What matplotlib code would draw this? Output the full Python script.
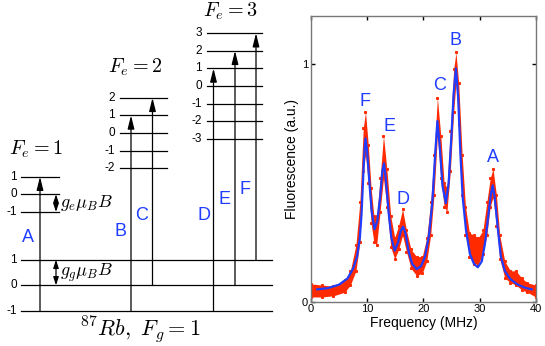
import matplotlib
matplotlib.use("Agg")
import matplotlib.pyplot as plt

plt.rcParams.update({
    "font.family": ["Liberation Sans", "DejaVu Sans"],
    "mathtext.fontset": "cm",
    "font.size": 9,
})

# ── level diagram data ────────────────────────────────────────────
ground_m = [1, 0, -1]
excited_F = [1, 2, 3]
trans_labels = ["A", "B", "C", "D", "E", "F"]
trans_mg = [-1, -1, 0, -1, 0, 1]     # ground sublevel
trans_Fe = [1, 2, 2, 3, 3, 3]        # excited manifold
trans_me = [1, 1, 2, 1, 2, 3]        # excited sublevel

# ── spectrum data ─────────────────────────────────────────────────
# fit curve (blue)
fit_f = [1.1, 3.0, 5.0, 6.5, 7.5, 8.2, 8.7, 9.0, 9.3, 9.5, 9.7, 10.0, 10.4, 10.8,
         11.3, 11.8, 12.3, 12.7, 13.0, 13.3, 13.8, 14.3, 14.9, 15.5, 16.0, 16.4,
         16.8, 17.4, 18.0, 18.8, 19.6, 20.3, 21.0, 21.6, 22.1, 22.5, 22.9, 23.4,
         24.0, 24.5, 25.0, 25.4, 25.8, 26.2, 26.6, 27.0, 27.6, 28.3, 29.0, 29.7,
         30.4, 31.0, 31.6, 32.0, 32.35, 32.7, 33.2, 33.8, 34.5, 35.5, 36.8, 38.2, 39.3]
fit_y = [0.052, 0.057, 0.072, 0.098, 0.14, 0.19, 0.27, 0.37, 0.53, 0.63, 0.688, 0.63,
         0.50, 0.38, 0.305, 0.34, 0.44, 0.55, 0.583, 0.52, 0.38, 0.27, 0.215, 0.25,
         0.30, 0.316, 0.29, 0.21, 0.16, 0.137, 0.15, 0.19, 0.28, 0.42, 0.62, 0.761,
         0.66, 0.49, 0.415, 0.50, 0.70, 0.88, 0.983, 0.86, 0.62, 0.44, 0.30, 0.20,
         0.16, 0.145, 0.17, 0.25, 0.37, 0.45, 0.49, 0.44, 0.32, 0.19, 0.13, 0.095,
         0.072, 0.058, 0.052]

# measured data (red): lower / upper edge of the noisy band
data_f = [0, 2, 4, 6, 7, 8, 8.7, 9.3, 9.7, 10.2, 10.7, 11.2, 11.7, 12.3, 12.9, 13.5,
          14.2, 14.9, 15.6, 16.3, 17.0, 17.8, 18.8, 19.8, 20.6, 21.3, 21.9, 22.5,
          23.1, 23.7, 24.2, 24.8, 25.4, 25.8, 26.3, 26.9, 27.5, 28.2, 29.0, 29.8,
          30.6, 31.3, 31.9, 32.4, 33.0, 33.6, 34.5, 35.5, 36.5, 37.5, 38.5, 40]
data_lo = [0.02, 0.02, 0.025, 0.04, 0.07, 0.13, 0.25, 0.55, 0.62, 0.50, 0.33, 0.25,
           0.24, 0.38, 0.52, 0.40, 0.23, 0.18, 0.22, 0.28, 0.21, 0.14, 0.11, 0.12,
           0.17, 0.28, 0.45, 0.70, 0.52, 0.40, 0.38, 0.55, 0.80, 0.92, 0.75, 0.45,
           0.28, 0.19, 0.16, 0.16, 0.20, 0.28, 0.40, 0.44, 0.32, 0.18, 0.10, 0.08,
           0.07, 0.05, 0.04, 0.02]
data_hi = [0.075, 0.07, 0.065, 0.09, 0.13, 0.24, 0.42, 0.73, 0.80, 0.66, 0.48, 0.36,
           0.36, 0.52, 0.70, 0.56, 0.36, 0.27, 0.32, 0.39, 0.30, 0.22, 0.19, 0.19,
           0.27, 0.42, 0.62, 0.86, 0.70, 0.50, 0.48, 0.72, 0.98, 1.05, 0.92, 0.62,
           0.40, 0.29, 0.28, 0.27, 0.30, 0.42, 0.52, 0.56, 0.45, 0.28, 0.17, 0.13,
           0.13, 0.10, 0.08, 0.07]

peak_labels = ["F", "E", "D", "C", "B", "A"]
peak_f = [9.7, 13.9, 16.4, 22.9, 25.7, 32.45]
peak_y = [0.843, 0.737, 0.431, 0.909, 1.10, 0.607]

BLUE = "#1f3dff"
RED = "#ff2a00"

fig = plt.figure(figsize=(5.45, 3.46), dpi=100)

# ── left: level scheme, drawn in pixel-like units ─────────────────
axd = fig.add_axes([0, 0, 280 / 545, 1])
axd.set_xlim(0, 280)
axd.set_ylim(346, 0)
axd.axis("off")

G_Y0, G_DY = 285.3, 25.5
E_DY = 17.6
E_Y0 = {1: 194.3, 2: 133.0, 3: 86.0}
E_X = {1: (21, 59), 2: (120, 167), 3: (207, 262)}
E_LAB_X = {1: 17, 2: 115, 3: 202}
E_TITLE = {1: (36, 149), 2: (135, 67), 3: (230, 11)}


def g_y(m):
    return G_Y0 - m * G_DY


def e_y(F, m):
    return E_Y0[F] - m * E_DY


for m in ground_m:
    axd.plot([21, 272], [g_y(m)] * 2, color="k", lw=0.9)
    axd.text(17, g_y(m), str(m), ha="right", va="center", fontsize=8.5)

for F in excited_F:
    for m in range(-F, F + 1):
        axd.plot(E_X[F], [e_y(F, m)] * 2, color="k", lw=0.9)
        axd.text(E_LAB_X[F], e_y(F, m), str(m), ha="right", va="center", fontsize=8.5)
    axd.text(*E_TITLE[F], rf"$F_e = {F}$", ha="center", va="center", fontsize=14.5)

arrow_x = [40, 131, 152.5, 213.5, 235, 256]
label_xy = [(28, 238), (120, 232), (142, 215), (204, 215), (225, 200), (245, 190)]
for lab, mg, F, me, x, (lx, ly) in zip(trans_labels, trans_mg, trans_Fe, trans_me,
                                       arrow_x, label_xy):
    axd.annotate("", xy=(x, e_y(F, me)), xytext=(x, g_y(mg)),
                 arrowprops=dict(arrowstyle="-|>,head_length=0.8,head_width=0.2",
                                 color="k", lw=0.9, shrinkA=0, shrinkB=0,
                                 mutation_scale=10))
    axd.text(lx, ly, lab, color=BLUE, fontsize=13, ha="center", va="center")

# Zeeman splitting markers
dbl = dict(arrowstyle="<|-|>,head_length=0.6,head_width=0.2", color="k", lw=0.9,
           shrinkA=0, shrinkB=0, mutation_scale=8)
axd.annotate("", xy=(56, e_y(1, 0)), xytext=(56, e_y(1, -1)), arrowprops=dbl)
axd.annotate("", xy=(56, g_y(1)), xytext=(56, g_y(0)), arrowprops=dbl)
axd.text(60, (e_y(1, 0) + e_y(1, -1)) / 2, r"$g_e\mu_B B$", va="center", fontsize=13)
axd.text(60, (g_y(1) + g_y(0)) / 2, r"$g_g\mu_B B$", va="center", fontsize=13)

axd.text(140, 330, r"$^{87}Rb,\ F_g = 1$", ha="center", va="center", fontsize=16)

# ── right: fluorescence spectrum ──────────────────────────────────
ax = fig.add_axes([311 / 545, 1 - 301.7 / 346, 224.7 / 545, 286 / 346])
ax.fill_between(data_f, data_lo, data_hi, color=RED, lw=0)
ax.plot(data_f, data_lo, "s", ms=1.2, color=RED)
ax.plot(data_f, data_hi, "s", ms=1.2, color=RED)
ax.plot(fit_f, fit_y, color=BLUE, lw=1.6)
for lab, f, y in zip(peak_labels, peak_f, peak_y):
    ax.text(f, y, lab, color=BLUE, fontsize=13, ha="center", va="center")

ax.set_xlim(0, 40)
ax.set_ylim(0, 1.205)
ax.set_xticks([0, 10, 20, 30, 40])
ax.set_yticks([0, 1])
ax.tick_params(direction="in", top=True, right=True, length=3, width=1,
               labelsize=8, pad=2)
for s in ax.spines.values():
    s.set_color("#777777")
    s.set_linewidth(1)
ax.set_xlabel("Frequency (MHz)", fontsize=10, labelpad=1)
ax.set_ylabel("Fluorescence (a.u.)", fontsize=10, labelpad=2)

fig.savefig("out.png", dpi=100)
